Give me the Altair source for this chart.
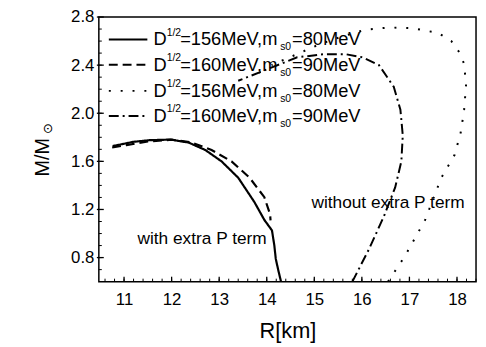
import altair as alt
import pandas as pd

# ---- data ----
R_solid = [10.76, 11.19, 11.53, 11.98, 12.36, 12.71, 13.05, 13.40, 13.74, 13.95, 14.11, 14.16, 14.19, 14.24, 14.30]
M_solid = [1.727, 1.762, 1.776, 1.781, 1.756, 1.694, 1.60, 1.464, 1.262, 1.113, 1.026, 0.90, 0.789, 0.70, 0.60]

R_dash = [10.75, 11.05, 11.50, 12.00, 12.40, 12.84, 13.26, 13.64, 13.95, 14.07, 14.08]
M_dash = [1.715, 1.735, 1.765, 1.780, 1.760, 1.694, 1.60, 1.464, 1.302, 1.16, 1.11]

R_dot = [16.55, 16.91, 17.33, 17.67, 17.95, 18.08, 18.15, 18.19, 18.15, 18.05, 17.88, 17.60, 17.05, 16.57, 16.08, 15.60, 15.09, 14.57, 14.10]
M_dot = [0.60, 0.815, 1.113, 1.464, 1.654, 1.843, 2.03, 2.235, 2.41, 2.506, 2.60, 2.668, 2.708, 2.713, 2.695, 2.64, 2.57, 2.48, 2.40]

R_dd = [15.80, 16.15, 16.46, 16.70, 16.83, 16.86, 16.81, 16.67, 16.36, 16.02, 15.67, 15.19, 14.64, 13.95, 13.40]
M_dd = [0.60, 0.87, 1.14, 1.383, 1.60, 1.816, 2.03, 2.22, 2.40, 2.465, 2.49, 2.49, 2.465, 2.356, 2.27]

x_labels = [11, 12, 13, 14, 15, 16, 17, 18]
y_labels = [0.8, 1.2, 1.6, 2.0, 2.4, 2.8]
x_minor = [round(10.6 + 0.2 * k, 1) for k in range(40)]
y_minor = [round(0.7 + 0.1 * k, 1) for k in range(21)]

leg_D = ["D", "D", "D", "D"]
leg_sup = ["1/2", "1/2", "1/2", "1/2"]
leg_mid = ["=156MeV,m", "=160MeV,m", "=156MeV,m", "=160MeV,m"]
leg_sub = ["s0", "s0", "s0", "s0"]
leg_end = ["=80MeV", "=90MeV", "=80MeV", "=90MeV"]
leg_M = [2.613, 2.403, 2.186, 1.978]
leg_R_line = [10.68, 11.49]
leg_R_text = 11.62

dashes = [[1, 0], [9, 5], [2, 10], [10, 4, 2, 4]]
series = [(R_solid, M_solid), (R_dash, M_dash), (R_dot, M_dot), (R_dd, M_dd)]

FONT = "Liberation Sans"
W, H = 382, 268
xs = alt.Scale(domain=[10.47, 18.4], nice=False, zero=False)
ys = alt.Scale(domain=[0.6, 2.8], nice=False, zero=False)

xaxis = alt.Axis(values=x_labels, format="d", ticks=False, domain=False, grid=False,
                 labelFontSize=17, labelFont=FONT, labelColor="black", labelPadding=10,
                 title="R[km]", titleFont=FONT, titleFontSize=22, titleFontWeight="normal",
                 titleColor="black", titlePadding=14)
yaxis = alt.Axis(values=y_labels, format=".1f", ticks=False, domain=False, grid=False,
                 labelFontSize=17, labelFont=FONT, labelColor="black", labelPadding=5,
                 title=None)

def X():
    return alt.X("R:Q", scale=xs, axis=xaxis)

def Y():
    return alt.Y("M:Q", scale=ys, axis=yaxis)

layers = []
for k, ((R, M), d) in enumerate(zip(series, dashes)):
    df = pd.DataFrame({"R": R, "M": M, "i": list(range(len(R)))})
    sw = 2.2 if k < 2 else 2
    layers.append(alt.Chart(df).mark_line(color="black", strokeWidth=sw, strokeDash=d, clip=True).encode(
        x=X(), y=Y(), order="i:Q"))
    ldf = pd.DataFrame({"R": leg_R_line, "M": [leg_M[k]] * 2, "i": [0, 1]})
    layers.append(alt.Chart(ldf).mark_line(color="black", strokeWidth=sw, strokeDash=d).encode(
        x=X(), y=Y(), order="i:Q"))

# ticks (inside)
xt_min = pd.DataFrame({"R": x_minor})
xt_maj = pd.DataFrame({"R": x_labels})
yt_min = pd.DataFrame({"M": y_minor})
yt_maj = pd.DataFrame({"M": y_labels})
layers.append(alt.Chart(xt_min).mark_rule(color="black", strokeWidth=1).encode(
    x=X(), y=alt.value(H), y2=alt.value(H - 3)))
layers.append(alt.Chart(xt_maj).mark_rule(color="black", strokeWidth=1.3).encode(
    x=X(), y=alt.value(H), y2=alt.value(H - 5)))
layers.append(alt.Chart(yt_min).mark_rule(color="black", strokeWidth=1).encode(
    y=Y(), x=alt.value(0), x2=alt.value(3)))
layers.append(alt.Chart(yt_maj).mark_rule(color="black", strokeWidth=1.3).encode(
    y=Y(), x=alt.value(-2), x2=alt.value(5)))

# legend text
F, S = 18.5, 10.5
AW = {'D': 722, '1': 556, '/': 278, '2': 556, '=': 584, '5': 556, '6': 556, '0': 556,
      '8': 556, '9': 556, 'M': 833, 'e': 556, 'V': 667, ',': 278, 'm': 833, 's': 500}

def tw(s, f):
    return sum(AW[c] for c in s) / 1000.0 * f

offs = [0.0]
offs.append(offs[-1] + tw("D", F))
offs.append(offs[-1] + tw("1/2", S) - 1)
offs.append(offs[-1] + tw("=156MeV,m", F) + 1)
offs.append(offs[-1] + tw("s0", S) + 1)
pieces = [(leg_D, F, 0), (leg_sup, S, -7), (leg_mid, F, 0), (leg_sub, S, 8), (leg_end, F, 0)]
for (txts, fs, dy), dx in zip(pieces, offs):
    tdf = pd.DataFrame({"R": [leg_R_text] * 4, "M": leg_M, "t": txts})
    layers.append(alt.Chart(tdf).mark_text(align="left", baseline="middle", font=FONT,
                                           fontSize=fs, dx=dx, dy=dy, color="black").encode(
        x=X(), y=Y(), text="t:N"))

# annotations
ann = pd.DataFrame({"R": [12.64, 16.55], "M": [0.951, 1.253],
                    "t": ["with extra P term", "without extra P term"]})
layers.append(alt.Chart(ann).mark_text(align="center", baseline="middle", font=FONT,
                                       fontSize=17.5, color="black").encode(
    x=X(), y=Y(), text="t:N"))

# y title with subscript sun symbol
yt = pd.DataFrame({"t": ["M/M"]})
layers.append(alt.Chart(yt).mark_text(angle=270, align="center", baseline="middle", font=FONT,
                                      fontSize=20, color="black").encode(
    x=alt.value(-56), y=alt.value(142), text="t:N"))
ys_t = pd.DataFrame({"t": ["⊙"]})
layers.append(alt.Chart(ys_t).mark_text(angle=270, align="center", baseline="middle",
                                        font="DejaVu Sans", fontSize=13, color="black").encode(
    x=alt.value(-51), y=alt.value(113), text="t:N"))

chart = alt.layer(*layers).properties(
    width=W, height=H,
    padding={"left": 92, "top": 7, "right": 2, "bottom": 60},
    autosize=alt.AutoSizeParams(type="none"),
).configure_view(stroke="black", strokeWidth=1.5)

chart.save("out.html", embed_options={"renderer": "svg", "actions": False})
